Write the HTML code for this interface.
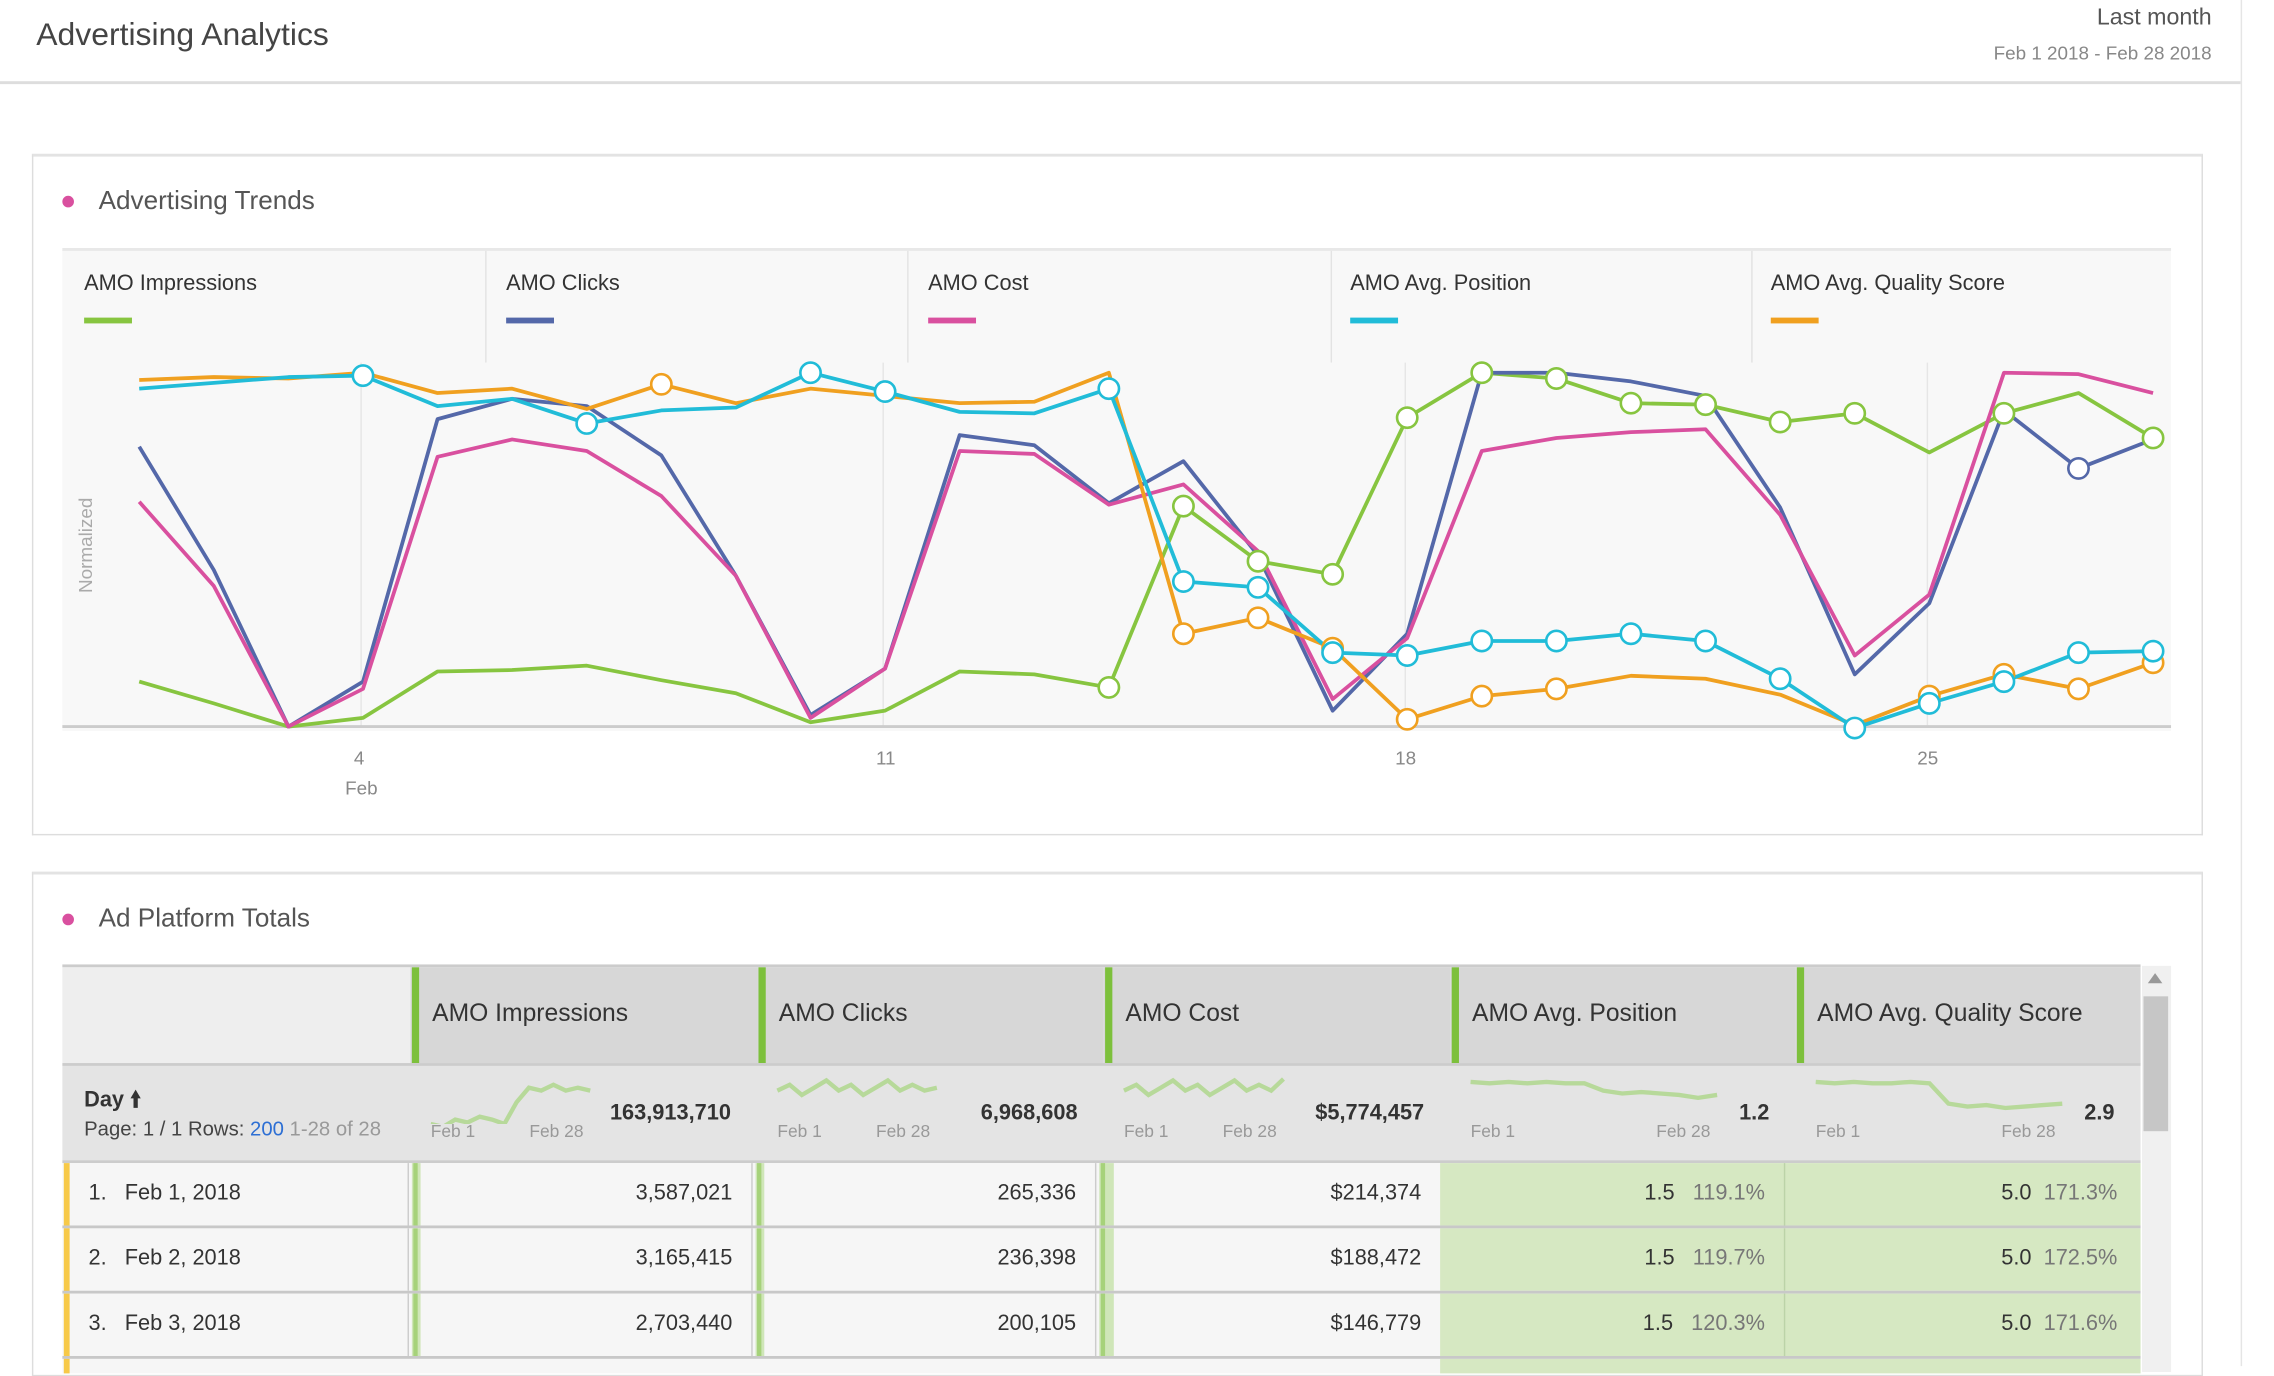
<!DOCTYPE html>
<html><head><meta charset="utf-8">
<style>
html,body{margin:0;padding:0;background:#fff;overflow:hidden}
body{width:2274px;height:1366px}
#w{position:absolute;left:0;top:0;width:1568px;height:942px;transform:scale(1.45026);transform-origin:0 0;font-family:"Liberation Sans",sans-serif;color:#333}
.a{position:absolute;white-space:nowrap}
.r{text-align:right}
</style></head><body>
<div id="w">
<div class="a" style="left:25px;top:11px;font-size:22px;color:#444">Advertising Analytics</div>
<div class="a r" style="right:43px;top:4px;font-size:16px;color:#555">Last month</div>
<div class="a r" style="right:43px;top:29px;font-size:13px;color:#888">Feb 1 2018 - Feb 28 2018</div>
<div class="a" style="left:0;top:56px;width:1545px;height:2px;background:#ddd"></div>
<div class="a" style="left:1545px;top:0;width:1px;height:942px;background:#e5e5e5"></div>

<div class="a" style="left:22px;top:106px;width:1495px;height:467px;border:1px solid #ddd;border-top:2px solid #e3e3e3"></div>
<div class="a" style="left:43px;top:135px;width:8px;height:8px;border-radius:50%;background:#d9509f"></div>
<div class="a" style="left:68px;top:128px;font-size:18px;color:#555">Advertising Trends</div>

<div class="a" style="left:43px;top:171px;width:1454px;height:331px;background:#f8f8f8;border-top:2px solid #e8e8e8"></div>
<div id="leg"></div>
<svg class="a" style="left:0;top:0" width="1568" height="600" id="ch"></svg>
<div class="a" style="left:59px;top:376px;font-size:13px;color:#aaa;transform:translate(-50%,-50%) rotate(-90deg)">Normalized</div>
<div class="a" style="left:244px;top:515px;font-size:13px;color:#888">4</div>
<div class="a" style="left:238px;top:536px;font-size:13px;color:#888">Feb</div>
<div class="a" style="left:604px;top:515px;font-size:13px;color:#888">11</div>
<div class="a" style="left:962px;top:515px;font-size:13px;color:#888">18</div>
<div class="a" style="left:1322px;top:515px;font-size:13px;color:#888">25</div>

<div class="a" style="left:22px;top:601px;width:1495px;height:345px;border:1px solid #ddd;border-top:2px solid #e3e3e3"></div>
<div class="a" style="left:43px;top:630px;width:8px;height:8px;border-radius:50%;background:#d9509f"></div>
<div class="a" style="left:68px;top:623px;font-size:18px;color:#555">Ad Platform Totals</div>
<div id="tb"></div>
<div class="a" style="left:1477px;top:666px;width:20px;height:280px;background:#f0f0f0"></div>
<div class="a" style="left:1478px;top:687px;width:17px;height:93px;background:#c6c6c6"></div>
<div class="a" style="left:1481px;top:671px;width:0;height:0;border-left:5px solid transparent;border-right:5px solid transparent;border-bottom:7px solid #999"></div>
</div>
<script>
var S=[
["#87c540",[470,485,501,495,463,462,459,469,478,498,490,463,465,474,349,387,396,288,257,261,278,279,291,285,312,285,271,302],[14,15,16,17,18,19,20,21,22,23,24,26,28]],
["#5468a9",[308,393,501,470,289,275,280,314,397,493,461,300,307,347,318,383,490,437,257,257,263,273,350,465,416,283,323,303],[27]],
["#d9509f",[346,404,501,475,315,303,311,342,397,495,461,311,313,348,334,380,482,440,311,302,298,296,355,452,410,257,258,271],[]],
["#f0a020",[262,260,261,257,271,268,282,265,278,268,273,278,277,257,437,426,447,496,480,475,466,468,479,500,480,465,475,457],[8,15,16,17,18,19,20,25,26,27,28]],
["#21bcd8",[268,264,260,259,280,275,292,283,281,257,270,284,285,268,401,405,450,452,442,442,437,442,468,502,485,470,450,449],[4,7,10,11,14,15,16,17,18,19,20,21,22,23,24,25,26,27,28]]
];
var X=function(d){return 96+(d-1)*51.43};
var h='';
[249,609,969,1329].forEach(function(x){h+='<line x1="'+x+'" y1="250" x2="'+x+'" y2="501" stroke="#e6e6e6" stroke-width="1"/>'});
[335,626,918,1208].forEach(function(x){h+='<line x1="'+x+'" y1="173" x2="'+x+'" y2="250" stroke="#e3e3e3" stroke-width="1"/>'});
h+='<line x1="43" y1="501" x2="1497" y2="501" stroke="#ccc" stroke-width="2"/>';
var order=[0,1,2,3,4];
order.forEach(function(i){var s=S[i];var p=s[1].map(function(y,k){return X(k+1).toFixed(1)+','+y}).join(' ');
h+='<polyline points="'+p+'" fill="none" stroke="'+s[0]+'" stroke-width="2.6" stroke-linejoin="round"/>';});
order.forEach(function(i){var s=S[i];s[2].forEach(function(d){h+='<circle cx="'+X(d)+'" cy="'+s[1][d-1]+'" r="7" fill="#fff" stroke="'+s[0]+'" stroke-width="1.8"/>'})});
document.getElementById('ch').innerHTML=h;
var L=['AMO Impressions','AMO Clicks','AMO Cost','AMO Avg. Position','AMO Avg. Quality Score'],C=['#87c540','#5468a9','#d9509f','#21bcd8','#f0a020'],LX=[58,349,640,931,1221];
var g='';L.forEach(function(t,i){g+='<div class="a" style="left:'+LX[i]+'px;top:187px;font-size:15px;color:#333">'+t+'</div><div class="a" style="left:'+LX[i]+'px;top:219px;width:33px;height:4px;background:'+C[i]+'"></div>'});
document.getElementById('leg').innerHTML=g;
// table
var cx=[43,283,522,761,1000,1238,1476];var t='';
t+='<div class="a" style="left:43px;top:665px;width:1433px;height:2px;background:#ccc"></div>';
t+='<div class="a" style="left:43px;top:667px;width:240px;height:66px;background:#eee"></div>';
for(var i=1;i<6;i++){t+='<div class="a" style="left:'+cx[i]+'px;top:667px;width:'+(cx[i+1]-cx[i])+'px;height:66px;background:#d7d7d7"></div><div class="a" style="left:'+(cx[i]+1)+'px;top:667px;width:5px;height:66px;background:#7dc03c"></div><div class="a" style="left:'+(cx[i]+15)+'px;top:689px;font-size:17px;color:#333">'+L[i-1]+'</div>';}
t+='<div class="a" style="left:43px;top:733px;width:1433px;height:2px;background:#ccc"></div>';
t+='<div class="a" style="left:43px;top:735px;width:1433px;height:65px;background:#e4e4e4"></div>';
t+='<div class="a" style="left:58px;top:748px;font-size:15px;font-weight:bold;color:#333">Day &#129049;</div>';
t+='<div class="a" style="left:58px;top:770px;font-size:14px;color:#444">Page: 1 / 1 Rows: <span style="color:#2d6fd4">200</span> <span style="color:#999">1-28 of 28</span></div>';
var tot=['163,913,710','6,968,608','$5,774,457','1.2','2.9'];
var sp=[[775,777,772,774,770,772,775,760,750,752,748,752,750,752],[752,748,755,750,745,752,748,755,750,745,752,748,752,750],[752,748,755,750,745,752,748,755,750,745,752,748,752,744],[746,747,746,747,746,747,747,752,754,753,754,755,757,755],[746,747,746,747,747,746,747,761,763,762,764,763,762,761]];
for(var i=1;i<6;i++){var x0=cx[i]+14,w=(i>=4?170:110);var pts=sp[i-1].map(function(y,k,a){return (x0+k*w/(a.length-1)).toFixed(1)+','+(y-735)}).join(' ');
t+='<svg class="a" style="left:0;top:735px" width="1568" height="40"><polyline points="'+pts+'" fill="none" stroke="#b7d99a" stroke-width="3"/></svg>';
t+='<div class="a" style="left:'+x0+'px;top:773px;font-size:12px;color:#999">Feb 1</div><div class="a" style="left:'+(x0+w-42)+'px;top:773px;font-size:12px;color:#999">Feb 28</div>';
t+='<div class="a r" style="left:'+(cx[i+1]-120)+'px;width:102px;top:759px;font-size:15px;font-weight:bold;color:#333">'+tot[i-1]+'</div>';}
var rows=[['1.','Feb 1, 2018','3,587,021','265,336','$214,374','1.5','119.1%','5.0','171.3%'],['2.','Feb 2, 2018','3,165,415','236,398','$188,472','1.5','119.7%','5.0','172.5%'],['3.','Feb 3, 2018','2,703,440','200,105','$146,779','1.5','120.3%','5.0','171.6%']];
var ry=[802,847,892];
t+='<div class="a" style="left:43px;top:800px;width:1433px;height:2px;background:#ccc"></div>';
rows.forEach(function(r,j){var y=ry[j];
t+='<div class="a" style="left:43px;top:'+y+'px;width:950px;height:43px;background:#f6f6f6"></div>';
t+='<div class="a" style="left:993px;top:'+y+'px;width:483px;height:43px;background:#d6e8c2"></div>';
t+='<div class="a" style="left:1230px;top:'+y+'px;width:1px;height:43px;background:#bcd3a8"></div>';
t+='<div class="a" style="left:44px;top:'+y+'px;width:4px;height:45px;background:#f7c948"></div>';
[281,518,755].forEach(function(x){t+='<div class="a" style="left:'+x+'px;top:'+y+'px;width:1px;height:43px;background:#ccc"></div><div class="a" style="left:'+(x+3)+'px;top:'+y+'px;width:'+(x==755?10:6)+'px;height:43px;background:#cfe6b8"></div><div class="a" style="left:'+(x+4)+'px;top:'+y+'px;width:3px;height:43px;background:#a6d27a"></div>'});
t+='<div class="a" style="left:61px;top:'+(y+12)+'px;font-size:15px;color:#333">'+r[0]+'&nbsp;&nbsp; '+r[1]+'</div>';
t+='<div class="a r" style="left:380px;width:125px;top:'+(y+12)+'px;font-size:15px;color:#333">'+r[2]+'</div>';
t+='<div class="a r" style="left:620px;width:122px;top:'+(y+12)+'px;font-size:15px;color:#333">'+r[3]+'</div>';
t+='<div class="a r" style="left:860px;width:120px;top:'+(y+12)+'px;font-size:15px;color:#333">'+r[4]+'</div>';
t+='<div class="a r" style="left:1060px;width:157px;top:'+(y+12)+'px;font-size:15px;color:#333">'+r[5]+'&nbsp;&nbsp; <span style="color:#777">'+r[6]+'</span></div>';
t+='<div class="a r" style="left:1300px;width:160px;top:'+(y+12)+'px;font-size:15px;color:#333">'+r[7]+'&nbsp; <span style="color:#777">'+r[8]+'</span></div>';
t+='<div class="a" style="left:43px;top:'+(y+43)+'px;width:1433px;height:2px;background:#c8c8c8"></div>';});
t+='<div class="a" style="left:43px;top:937px;width:950px;height:10px;background:#f6f6f6"></div><div class="a" style="left:993px;top:937px;width:483px;height:10px;background:#d6e8c2"></div><div class="a" style="left:44px;top:937px;width:4px;height:10px;background:#f7c948"></div>';
document.getElementById('tb').innerHTML=t;
</script>
</body></html>
